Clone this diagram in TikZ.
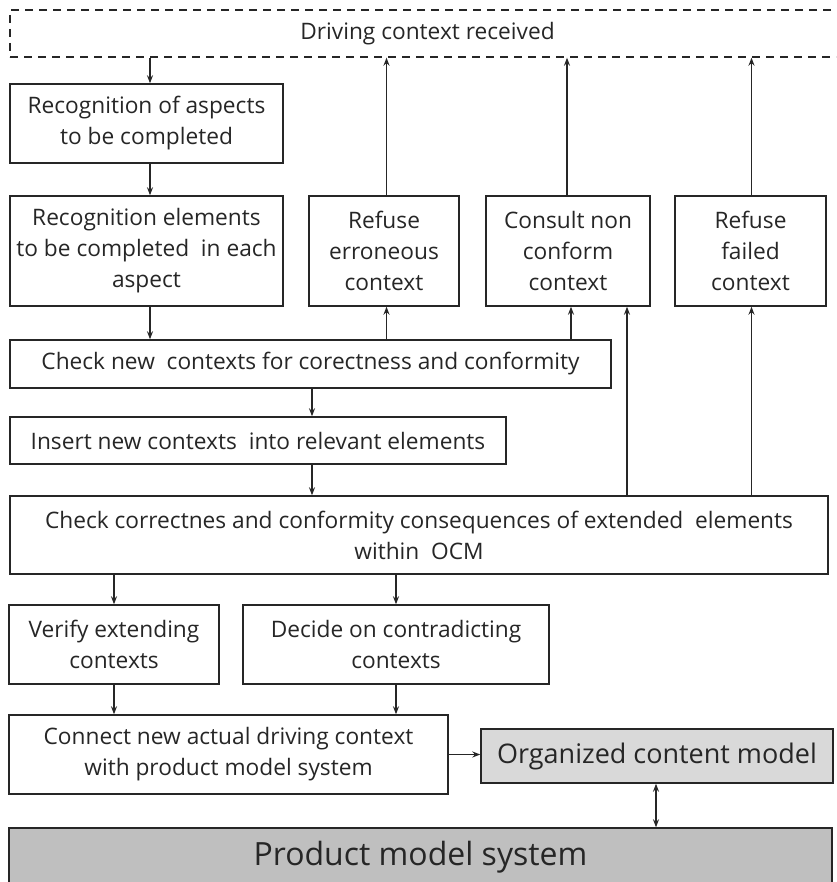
\documentclass[tikz,border=0pt]{standalone}
\usepackage{fontspec}
\setmainfont{Open Sans}
\usetikzlibrary{arrows.meta,calc}
\definecolor{ink}{HTML}{262626}
\definecolor{ocmfill}{HTML}{D9D9D9}
\definecolor{pmsfill}{HTML}{BFBFBF}
\begin{document}
\begin{tikzpicture}[x=1pt,y=-1pt,
  box/.style={draw=ink, line width=1.4pt, rectangle, inner sep=0pt, align=center,
    text=ink, font=\fontsize{22.7}{31}\selectfont},
  arr/.style={-{Stealth[length=8pt,width=6pt]}, line width=1.4pt, draw=ink},
  darr/.style={{Stealth[length=8pt,width=6pt]}-{Stealth[length=8pt,width=6pt]}, line width=1.4pt, draw=ink}]
\useasboundingbox (0,0) rectangle (836,882);
\clip (0,0) rectangle (836,882);

% nodes
\node[box, dash pattern=on 8pt off 6pt, minimum width=835pt, minimum height=47pt] (top) at (427.5,33.5) {Driving context received};
\node[box, minimum width=273pt, minimum height=79pt] (b1) at (146.5,123.5) {Recognition of aspects\\to be completed};
\node[box, minimum width=273pt, minimum height=110pt] (b2) at (146.5,251) {Recognition elements\\to be completed\ \ in each\\aspect};
\node[box, minimum width=150pt, minimum height=110pt] (re) at (384,251) {Refuse\\erroneous\\context};
\node[box, minimum width=164pt, minimum height=110pt] (cn) at (568,251) {Consult non\\conform\\context};
\node[box, minimum width=151pt, minimum height=110pt] (rf) at (750.5,251) {Refuse\\failed\\context};
\node[box, minimum width=601pt, minimum height=48pt] (chk1) at (310.5,364) {Check new\ \ contexts for corectness and conformity};
\node[box, minimum width=496pt, minimum height=47pt] (ins) at (258,440.5) {Insert new contexts\ \ into relevant elements};
\node[box, minimum width=818pt, minimum height=78pt] (chk2) at (419,535) {Check correctnes and conformity consequences of extended\ \ elements\\within\ \ OCM};
\node[box, minimum width=210pt, minimum height=79pt] (ver) at (114,644.5) {Verify extending\\contexts};
\node[box, minimum width=306pt, minimum height=79pt] (dec) at (396,644.5) {Decide on contradicting\\contexts};
\node[box, minimum width=439pt, minimum height=79pt] (con) at (228.5,754.5) {Connect new actual driving context\\with product model system};
\node[box, fill=ocmfill, minimum width=352pt, minimum height=54pt, font=\fontsize{27}{32}\selectfont] (ocm) at (657,756) {Organized content model};
\node[box, fill=pmsfill, minimum width=823pt, minimum height=58pt, font=\fontsize{32}{38}\selectfont] (pms) at (420.5,857) {Product model system};

% x positions of connectors
\coordinate (xa) at (150,0);
\coordinate (xre) at (386.5,0);
\coordinate (xcnT) at (567,0);
\coordinate (xcnA) at (571,0);
\coordinate (xcnB) at (627,0);
\coordinate (xrf) at (751.5,0);
\coordinate (xins) at (312,0);
\coordinate (xver) at (114,0);
\coordinate (xdec) at (396,0);
\coordinate (xocm) at (656,0);

% connectors
\draw[arr] (top.south -| xa) -- (b1.north -| xa);
\draw[arr] (b1.south -| xa) -- (b2.north -| xa);
\draw[arr] (b2.south -| xa) -- (chk1.north -| xa);
\draw[arr] (chk1.north -| xre) -- (re.south -| xre);
\draw[arr] (chk1.north -| xcnA) -- (cn.south -| xcnA);
\draw[arr] (chk2.north -| xcnB) -- (cn.south -| xcnB);
\draw[arr] (chk2.north -| xrf) -- (rf.south -| xrf);
\draw[arr] (re.north -| xre) -- (top.south -| xre);
\draw[arr] (cn.north -| xcnT) -- (top.south -| xcnT);
\draw[arr] (rf.north -| xrf) -- (top.south -| xrf);
\draw[arr] (chk1.south -| xins) -- (ins.north -| xins);
\draw[arr] (ins.south -| xins) -- (chk2.north -| xins);
\draw[arr] (chk2.south -| xver) -- (ver.north -| xver);
\draw[arr] (chk2.south -| xdec) -- (dec.north -| xdec);
\draw[arr] (ver.south -| xver) -- (con.north -| xver);
\draw[arr] (dec.south -| xdec) -- (con.north -| xdec);
\draw[arr] (con.east) -- (con.east -| ocm.west);
\draw[darr] (ocm.south -| xocm) -- (pms.north -| xocm);
\end{tikzpicture}
\end{document}
